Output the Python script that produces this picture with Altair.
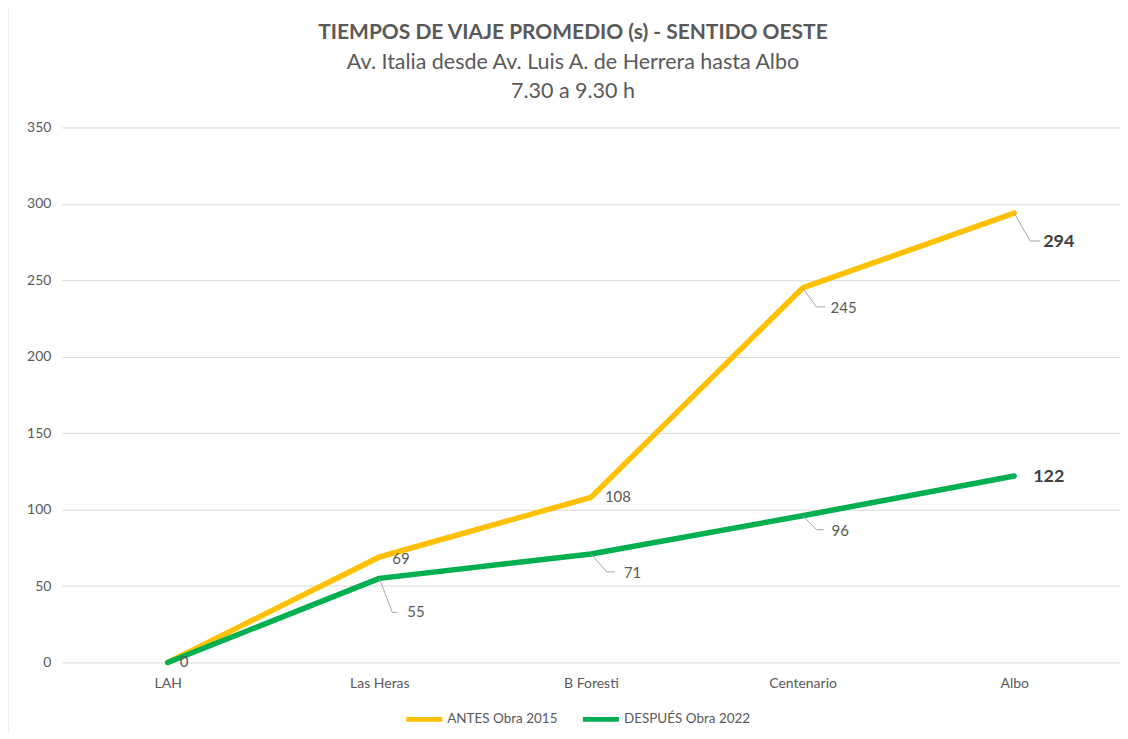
import altair as alt
import pandas as pd

categories = ["LAH", "Las Heras", "B Foresti", "Centenario", "Albo"]
antes = [0, 69, 108, 245, 294]
despues = [0, 55, 71, 96, 122]
series_names = ["ANTES Obra 2015", "DESPUÉS Obra 2022"]
series_colors = ["#FFC000", "#00B050"]
y_ticks = [0, 50, 100, 150, 200, 250, 300, 350]
title_lines = ["TIEMPOS DE VIAJE PROMEDIO (s) - SENTIDO OESTE",
               "Av. Italia desde Av. Luis A. de Herrera hasta Albo",
               "7.30 a 9.30 h"]

# label styling (pixel offsets from the point): (label dx, label dy, leader or None, bold)
# leader = (elbow dx, elbow dy, end dx)
antes_label_style = [None, (13, 2, None, False), (14, 0, None, False),
                     (28, 20, (14, 19, 23), False), (29, 29, (16, 28, 26), True)]
despues_label_style = [(12, 0, None, False), (28, 34, (13, 34, 18), False),
                       (33, 19, (16, 18, 24), False), (29, 15, (14, 14, 21), False),
                       (19, 1, None, True)]

W, H = 1060, 536
Y_MAX = 350
PX_X = W / len(categories)      # pixels per category index
PX_Y = H / Y_MAX                # pixels per value unit

rows = []
for name, vals in zip(series_names, [antes, despues]):
    for i, v in enumerate(vals):
        rows.append({"serie": name, "idx": i, "valor": v, "cat": categories[i]})
df = pd.DataFrame(rows)

lab_rows, lead_rows = [], []
for name, vals, styles in zip(series_names, [antes, despues],
                              [antes_label_style, despues_label_style]):
    for i, (v, st) in enumerate(zip(vals, styles)):
        if st is None:
            continue
        ldx, ldy, lead, bold = st
        lab_rows.append({"lx": i + ldx / PX_X, "ly": v - ldy / PX_Y,
                         "txt": str(v), "bold": bold})
        if lead:
            ex, ey, endx = lead
            lead_rows.append({"x": i, "y": v, "x2": i + ex / PX_X, "y2": v - ey / PX_Y})
            lead_rows.append({"x": i + ex / PX_X, "y": v - ey / PX_Y,
                              "x2": i + endx / PX_X, "y2": v - ey / PX_Y})
labels = pd.DataFrame(lab_rows)
leaders = pd.DataFrame(lead_rows)

label_expr = "[" + ",".join(f"'{c}'" for c in categories) + "][datum.value]"

x_scale = alt.Scale(domain=[-0.5, len(categories) - 0.5], nice=False, zero=False)
y_scale = alt.Scale(domain=[0, Y_MAX], nice=False)

x_axis = alt.Axis(values=list(range(len(categories))), labelExpr=label_expr, title=None,
                  grid=False, domain=False, ticks=False, labelPadding=14,
                  labelFontSize=14, labelColor="#595959", labelFont="Lato")
y_axis = alt.Axis(values=y_ticks, title=None, grid=True, gridColor="#D9D9D9",
                  domain=False, ticks=False, labelPadding=11, labelFontSize=14,
                  labelColor="#595959", labelFont="Lato")

lines = alt.Chart(df).mark_line(strokeWidth=5.5, strokeCap="round", strokeJoin="round").encode(
    x=alt.X("idx:Q", scale=x_scale, axis=x_axis),
    y=alt.Y("valor:Q", scale=y_scale, axis=y_axis),
    color=alt.Color("serie:N", scale=alt.Scale(domain=series_names, range=series_colors),
                    legend=alt.Legend(title=None, orient="none", legendX=342, legendY=572,
                                      direction="horizontal", symbolType="stroke",
                                      symbolStrokeWidth=5, symbolSize=1300,
                                      labelFontSize=13.5, labelColor="#595959",
                                      labelFont="Lato", labelOffset=2, columnPadding=14)),
    order="idx:Q",
)

leader_rules = alt.Chart(leaders).mark_rule(color="#A6A6A6", strokeWidth=1).encode(
    x=alt.X("x:Q", scale=x_scale), y=alt.Y("y:Q", scale=y_scale),
    x2="x2:Q", y2="y2:Q",
)

txt_normal = alt.Chart(labels).transform_filter("!datum.bold").mark_text(
    align="left", baseline="middle", font="Lato", fontSize=15, color="#595959"
).encode(x=alt.X("lx:Q", scale=x_scale), y=alt.Y("ly:Q", scale=y_scale), text="txt:N")

txt_bold = alt.Chart(labels).transform_filter("datum.bold").mark_text(
    align="left", baseline="middle", font="Lato", fontSize=18, fontWeight="bold",
    color="#404040"
).encode(x=alt.X("lx:Q", scale=x_scale), y=alt.Y("ly:Q", scale=y_scale), text="txt:N")

one = pd.DataFrame({"k": [0]})
border = alt.Chart(one).mark_rule(color="#D9D9D9", strokeWidth=1).encode(
    x=alt.value(-54), y=alt.value(-130), y2=alt.value(H + 90)
)

title_main = alt.Chart(one).mark_text(
    font="Lato", fontSize=21, fontWeight="bold", color="#595959",
    align="center", baseline="middle"
).encode(x=alt.value(512), y=alt.value(-95), text=alt.value(title_lines[0]))
title_sub1 = alt.Chart(one).mark_text(
    font="Lato", fontSize=21.5, color="#595959", align="center", baseline="middle"
).encode(x=alt.value(512), y=alt.value(-65), text=alt.value(title_lines[1]))
title_sub2 = alt.Chart(one).mark_text(
    font="Lato", fontSize=21.5, color="#595959", align="center", baseline="middle"
).encode(x=alt.value(512), y=alt.value(-35), text=alt.value(title_lines[2]))

chart = alt.layer(border, title_main, title_sub1, title_sub2, lines, leader_rules,
                  txt_normal, txt_bold).properties(
    width=W, height=H,
    autosize=alt.AutoSizeParams(type="none"),
    padding={"left": 54, "top": 119, "right": 0, "bottom": 70},
).configure_view(stroke=None)

chart.save("out.html", embed_options={"renderer": "svg", "actions": False})
